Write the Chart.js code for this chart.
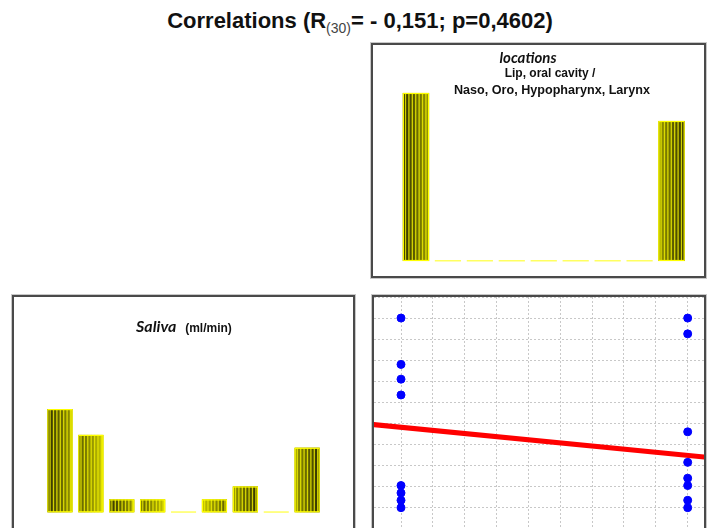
<!DOCTYPE html>
<html>
<head>
<meta charset="utf-8">
<script src="https://cdn.jsdelivr.net/npm/chart.js@4.4.0/dist/chart.umd.min.js"></script>
<style>
  html, body { margin: 0; padding: 0; background: #fff; }
  body { width: 707px; height: 528px; position: relative; overflow: hidden; font-family: "Liberation Sans", Arial, sans-serif; }
  .panel { position: absolute; box-sizing: border-box; border: 2px solid #4a4a4a; box-shadow: 0 0 0 1px #c8c8c8; background: #fff; }
  .panel canvas { display: block; }
  .txt { position: absolute; width: 300px; text-align: center; white-space: nowrap; line-height: 1; color: #111; }
  .lato { font-family: Lato, "Open Sans", sans-serif; font-weight: bold; font-style: italic; }
</style>
</head>
<body>

<div class="txt" id="mainTitle" style="left:0; width:720px; top:10px; font-size:22px; font-weight:bold;">Correlations (R<sub style="font-size:14px; font-weight:normal; color:#444; vertical-align:-5px;">(30)</sub>= - 0,151; p=0,4602)</div>

<div class="panel" style="left:371px; top:43px; width:335px; height:235px;">
  <canvas id="locChart" width="331" height="231"></canvas>
</div>
<div class="panel" style="left:12px; top:295px; width:343px; height:260px;">
  <canvas id="salChart" width="339" height="256"></canvas>
</div>
<div class="panel" style="left:372px; top:295px; width:334px; height:260px;">
  <canvas id="corrChart" width="330" height="256"></canvas>
</div>

<div class="txt lato" style="left:378px; top:50px; font-size:15px;">locations</div>
<div class="txt" style="left:400px; top:67px; font-size:12px; font-weight:bold;">Lip, oral cavity /</div>
<div class="txt" style="left:402px; top:83.5px; font-size:12.6px; font-weight:bold;">Naso, Oro, Hypopharynx, Larynx</div>
<div class="txt" style="left:34px; top:317.5px; font-size:16px;"><span class="lato">Saliva</span>&nbsp; <span style="font-size:12px; font-weight:bold; font-family:'Liberation Sans', Arial;">(ml/min)</span></div>

<script>
// histogram bins (locations: 1 = lip/oral cavity, 2 = naso/oro/hypopharynx/larynx)
const locBins = ['1', '', '', '', '', '', '', '', '2'];
const locCounts = [18, 0, 0, 0, 0, 0, 0, 0, 15];

// saliva flow histogram (ml/min)
const salBins = ['b1', 'b2', 'b3', 'b4', 'b5', 'b6', 'b7', 'b8', 'b9'];
const salCounts = [8, 6, 1, 1, 0, 1, 2, 0, 5];

// scatter: location vs saliva
const ptX = [1, 1, 1, 1, 1, 1, 1, 1, 2, 2, 2, 2, 2, 2, 2, 2];
const ptY = [2.2, 1.76, 1.62, 1.47, 0.61, 0.54, 0.47, 0.4,
             2.2, 2.05, 1.12, 0.83, 0.68, 0.61, 0.47, 0.4];

// regression line ends
const fitX = [0.9, 2.06];
const fitY = [1.19, 0.88];

Chart.defaults.animation = false;
Chart.defaults.plugins.legend.display = false;
Chart.defaults.plugins.tooltip.enabled = false;

// striped yellow/olive bars like the original graph
const stripes = {
    id: 'stripes',
    afterDatasetsDraw(chart) {
        const ctx = chart.ctx;
        const meta = chart.getDatasetMeta(0);
        meta.data.forEach((bar, i) => {
            const left = bar.x - bar.width / 2;
            const right = bar.x + bar.width / 2;
            const top = Math.min(bar.y, bar.base);
            const h = Math.abs(bar.base - bar.y);
            ctx.save();
            if (h > 0.5) {
                const dark = (i % 2 === 0) ? '#2e2e00' : '#5a5a00';
                const light = (i % 2 === 0) ? '#9a9a00' : '#c8c800';
                const flip = i > meta.data.length / 2;
                const g = ctx.createLinearGradient(flip ? right : left, 0, flip ? left : right, 0);
                g.addColorStop(0, dark);
                g.addColorStop(1, light);
                ctx.fillStyle = g;
                ctx.fillRect(left, top, right - left, h);
                ctx.fillStyle = 'rgba(235,235,0,0.85)';
                for (let sx = left + 2; sx < right - 1; sx += 3.4) {
                    ctx.fillRect(sx, top, 1.3, h);
                }
                ctx.strokeStyle = '#ffff00';
                ctx.lineWidth = 1.2;
                ctx.strokeRect(left + 0.5, top + 0.5, right - left - 1, h - 1);
            } else {
                ctx.fillStyle = '#ffff60';
                ctx.fillRect(left, bar.base - 1, right - left, 1.5);
            }
            ctx.restore();
        });
    }
};

function histOptions(yMax, pad) {
    return {
        responsive: false,
        layout: { padding: pad, autoPadding: false },
        scales: {
            x: { display: false },
            y: { display: false, min: 0, max: yMax }
        }
    };
}

new Chart(document.getElementById('locChart'), {
    type: 'bar',
    data: {
        labels: locBins,
        datasets: [{ data: locCounts, backgroundColor: '#b0b000', borderWidth: 0, barPercentage: 0.82, categoryPercentage: 1 }]
    },
    options: histOptions(20, { left: 27, right: 16.5, top: 29.3, bottom: 15 }),
    plugins: [stripes]
});

new Chart(document.getElementById('salChart'), {
    type: 'bar',
    data: {
        labels: salBins,
        datasets: [{ data: salCounts, backgroundColor: '#b0b000', borderWidth: 0, barPercentage: 0.81, categoryPercentage: 1 }]
    },
    options: histOptions(10, { left: 30.5, right: 30.4, top: 86.3, bottom: 40.7 }),
    plugins: [stripes]
});

const gridStyle = { color: '#c8c8c8', lineWidth: 1, drawTicks: false };

new Chart(document.getElementById('corrChart'), {
    type: 'scatter',
    data: {
        datasets: [
            {
                data: ptX.map((x, i) => ({ x: x, y: ptY[i] })),
                backgroundColor: '#0000ff',
                borderColor: '#0000ff',
                pointRadius: 4
            },
            {
                type: 'line',
                data: fitX.map((x, i) => ({ x: x, y: fitY[i] })),
                borderColor: '#ff0000',
                borderWidth: 5,
                pointRadius: 0,
                showLine: true
            }
        ]
    },
    options: {
        responsive: false,
        layout: { padding: { left: 0, right: 0, top: 0, bottom: 3.2 }, autoPadding: false },
        scales: {
            x: {
                type: 'linear', min: 0.9058, max: 2.0569,
                grid: gridStyle,
                border: { display: false, dash: [2, 2] },
                ticks: { display: false },
                afterBuildTicks(scale) {
                    const t = [];
                    for (let k = 0; k <= 9; k++) t.push({ value: 1 + k / 9 });
                    scale.ticks = t;
                }
            },
            y: {
                min: 0, max: 2.4,
                grid: gridStyle,
                border: { display: false, dash: [2, 2] },
                ticks: { display: false, stepSize: 0.2 }
            }
        }
    }
});
</script>
</body>
</html>
